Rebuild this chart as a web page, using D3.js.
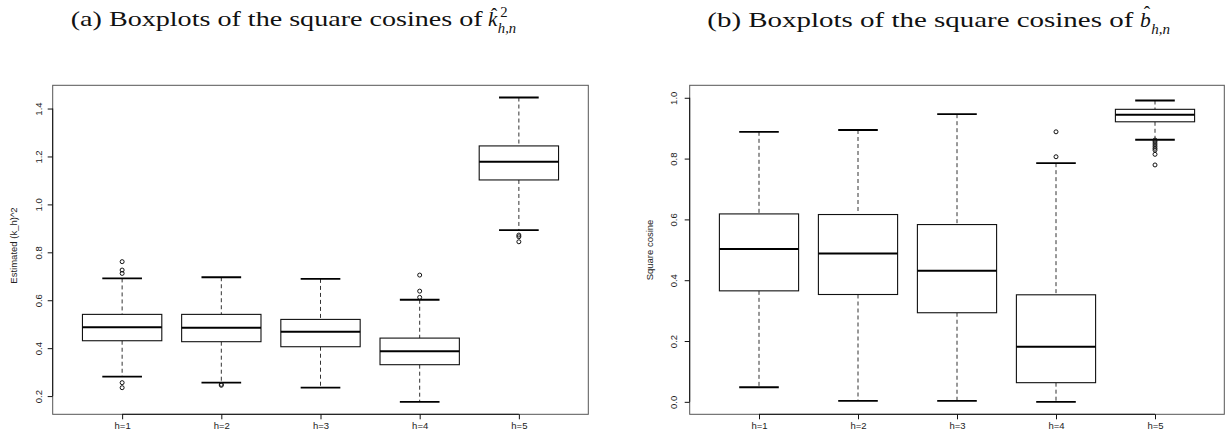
<!DOCTYPE html>
<html lang="en">
<head>
<meta charset="UTF-8">
<title>Boxplots of the square cosines</title>
<script src="https://d3js.org/d3.v7.min.js"></script>
<style>
    body { margin: 0; background: #fff; }
    .tick-label { font-family: "Liberation Sans", Arial, sans-serif; font-size: 9.5px; fill: #222; }
    .axis-title { font-family: "Liberation Sans", Arial, sans-serif; font-size: 9.5px; fill: #222; }
    .title { font-family: "Liberation Serif", "DejaVu Serif", serif; fill: #111; font-weight: normal; }
</style>
</head>
<body>
<div id="chart"></div>
<script>
    // groups on the x axis
    const categories = ["h=1", "h=2", "h=3", "h=4", "h=5"];

    // panel (a): estimated (k_h)^2
    const kLow  = [0.281, 0.256, 0.235, 0.176, 0.893];
    const kQ1   = [0.431, 0.427, 0.406, 0.331, 1.102];
    const kMed  = [0.487, 0.485, 0.469, 0.387, 1.178];
    const kQ3   = [0.541, 0.541, 0.520, 0.442, 1.244];
    const kHigh = [0.691, 0.696, 0.689, 0.602, 1.446];
    const kOut  = [[0.761, 0.726, 0.712, 0.256, 0.235], [0.249, 0.245], [], [0.705, 0.638, 0.612], [0.872, 0.865, 0.844]];
    const kTicks = [0.2, 0.4, 0.6, 0.8, 1.0, 1.2, 1.4];

    // panel (b): square cosine of b_h
    const bLow  = [0.048, 0.003, 0.003, 0.000, 0.862];
    const bQ1   = [0.365, 0.353, 0.293, 0.063, 0.921];
    const bMed  = [0.503, 0.488, 0.431, 0.181, 0.944];
    const bQ3   = [0.618, 0.616, 0.583, 0.352, 0.962];
    const bHigh = [0.888, 0.894, 0.946, 0.785, 0.991];
    const bOut  = [[], [], [], [0.888, 0.806], [0.861, 0.855, 0.848, 0.841, 0.834, 0.828, 0.814, 0.779]];
    const bTicks = [0.0, 0.2, 0.4, 0.6, 0.8, 1.0];

    const W = 1230, H = 445;
    const svg = d3.select("#chart").append("svg")
        .attr("width", W).attr("height", H);

    function drawPanel(opt) {
        const x = d3.scaleLinear().domain([0.3, 5.7]).range([opt.left, opt.right]);
        const y = d3.scaleLinear().domain(opt.yDomain).range([opt.bottom, opt.top]);
        const g = svg.append("g");
        const pos = categories.map((c, i) => i + 1);

        const stats = categories.map((c, i) => ({
            i: i + 1, lo: opt.low[i], q1: opt.q1[i], med: opt.med[i], q3: opt.q3[i], hi: opt.high[i], out: opt.out[i]
        }));

        stats.forEach(d => {
            // whiskers (dashed)
            [[d.hi, d.q3], [d.q1, d.lo]].forEach(([a, b]) => {
                g.append("line")
                    .attr("x1", x(d.i)).attr("x2", x(d.i))
                    .attr("y1", y(a)).attr("y2", y(b))
                    .attr("stroke", "#333").attr("stroke-width", 1)
                    .attr("stroke-dasharray", "4,3");
            });
            // staples
            [d.hi, d.lo].forEach(v => {
                g.append("line")
                    .attr("x1", x(d.i - 0.2)).attr("x2", x(d.i + 0.2))
                    .attr("y1", y(v)).attr("y2", y(v))
                    .attr("stroke", "#000").attr("stroke-width", 1.8);
            });
            // box
            g.append("rect")
                .attr("x", x(d.i - 0.4)).attr("width", x(d.i + 0.4) - x(d.i - 0.4))
                .attr("y", y(d.q3)).attr("height", y(d.q1) - y(d.q3))
                .attr("fill", "#fff").attr("stroke", "#111").attr("stroke-width", 1.1);
            // median
            g.append("line")
                .attr("x1", x(d.i - 0.4)).attr("x2", x(d.i + 0.4))
                .attr("y1", y(d.med)).attr("y2", y(d.med))
                .attr("stroke", "#000").attr("stroke-width", 2);
            // outliers
            g.selectAll(null).data(d.out).enter().append("circle")
                .attr("cx", x(d.i)).attr("cy", v => y(v)).attr("r", 2)
                .attr("fill", "none").attr("stroke", "#111").attr("stroke-width", 1);
        });

        // frame
        g.append("rect")
            .attr("x", opt.left).attr("y", opt.top)
            .attr("width", opt.right - opt.left).attr("height", opt.bottom - opt.top)
            .attr("fill", "none").attr("stroke", "#555").attr("stroke-width", 1);

        // x axis
        const xAxis = d3.axisBottom(x).tickValues(pos).tickFormat(d => categories[d - 1]).tickSize(5).tickPadding(3);
        const xg = g.append("g").attr("transform", `translate(0,${opt.bottom})`).call(xAxis);
        xg.select(".domain").attr("d", `M${x(1)},0H${x(5)}`).attr("stroke", "#111");
        xg.selectAll(".tick line").attr("stroke", "#111");
        xg.selectAll(".tick text").attr("class", "tick-label").attr("fill", null);

        // y axis, labels rotated like R
        const yAxis = d3.axisLeft(y).tickValues(opt.ticks).tickFormat(d3.format(".1f")).tickSize(5);
        const yg = g.append("g").attr("transform", `translate(${opt.left},0)`).call(yAxis);
        const t = opt.ticks;
        yg.select(".domain").attr("d", `M0,${y(t[0])}V${y(t[t.length - 1])}`).attr("stroke", "#111");
        yg.selectAll(".tick line").attr("stroke", "#111");
        yg.selectAll(".tick text")
            .attr("class", "tick-label").attr("fill", null)
            .attr("x", null)
            .attr("text-anchor", "middle")
            .attr("transform", `translate(${opt.tickLabelX - opt.left},0) rotate(-90)`)
            .attr("dy", "0.35em");

        g.append("text")
            .attr("class", "axis-title")
            .attr("text-anchor", "middle")
            .attr("transform", `translate(${opt.titleX},${opt.titleY}) rotate(-90)`)
            .attr("dy", "0.35em")
            .text(opt.yTitle);
    }

    drawPanel({
        left: 52.7, right: 588.3, top: 85.3, bottom: 414.3,
        yDomain: [0.124, 1.497], ticks: kTicks,
        low: kLow, q1: kQ1, med: kMed, q3: kQ3, high: kHigh, out: kOut,
        tickLabelX: 38.3, titleX: 13.5, titleY: 245.5, yTitle: "Estimated (k_h)^2"
    });
    drawPanel({
        left: 689.7, right: 1224.3, top: 85.3, bottom: 414.3,
        yDomain: [-0.041, 1.041], ticks: bTicks,
        low: bLow, q1: bQ1, med: bMed, q3: bQ3, high: bHigh, out: bOut,
        tickLabelX: 673.7, titleX: 650, titleY: 250, yTitle: "Square cosine"
    });

    // panel captions, set in a serif face to echo the LaTeX captions
    function caption(o) {
        svg.append("text").attr("class", "title")
            .attr("x", o.x).attr("y", o.y)
            .style("font-size", o.size + "px")
            .attr("textLength", o.width).attr("lengthAdjust", "spacingAndGlyphs")
            .text(o.text);
        const letter = svg.append("text").attr("class", "title")
            .attr("x", o.lx).attr("y", o.y)
            .style("font-size", o.size + "px").style("font-style", "italic")
            .text(o.letter);
        const lw = letter.node().getComputedTextLength();
        svg.append("text").attr("class", "title")
            .attr("x", o.lx + lw / 2 + 1.5).attr("y", o.y - o.hatDrop)
            .attr("text-anchor", "middle")
            .style("font-size", (o.size * 0.9) + "px")
            .text("\u02C6");
        if (o.sup) {
            svg.append("text").attr("class", "title")
                .attr("x", o.lx + lw + 3).attr("y", o.y - 9)
                .style("font-size", (o.size * 0.7) + "px")
                .text(o.sup);
        }
        svg.append("text").attr("class", "title")
            .attr("x", o.lx + lw + 0.5).attr("y", o.y + 7)
            .style("font-size", (o.size * 0.7) + "px").style("font-style", "italic")
            .text(o.sub);
    }

    caption({ x: 70.7, y: 26, size: 21, width: 412, text: "(a) Boxplots of the square cosines of",
              lx: 488, letter: "k", hatDrop: 5, sup: "2", sub: "h,n" });
    caption({ x: 707.3, y: 27, size: 21.5, width: 426, text: "(b) Boxplots of the square cosines of",
              lx: 1140, letter: "b", hatDrop: 8, sup: null, sub: "h,n" });
</script>
</body>
</html>
